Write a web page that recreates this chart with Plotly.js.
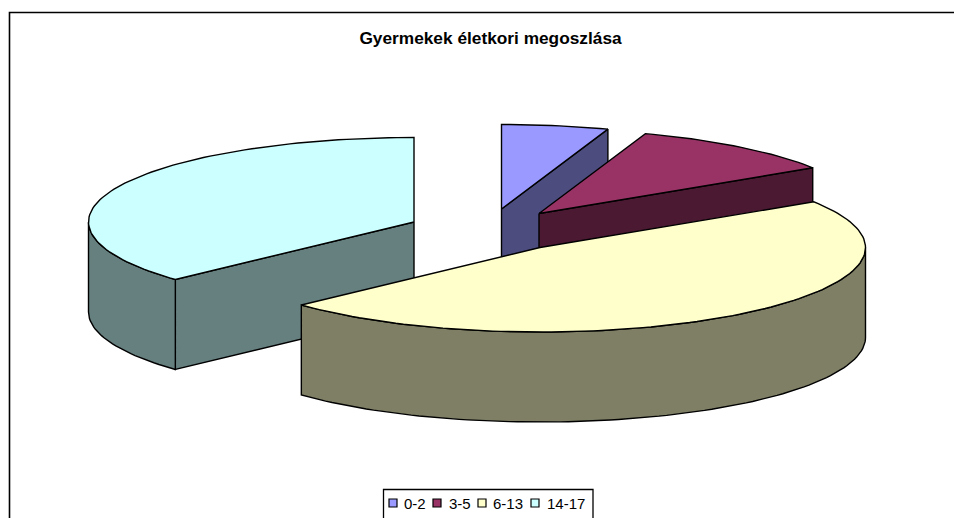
<!DOCTYPE html>
<html>
<head>
<meta charset="utf-8">
<script src="https://cdn.plot.ly/plotly-3.0.1.min.js"></script>
<style>html,body{margin:0;padding:0;background:#fff;overflow:hidden}#chart{width:954px;height:518px}</style>
</head>
<body>
<div id="chart"></div>
<script>
// Data
var categories = ["0-2", "3-5", "6-13", "14-17"];
var shares = [5.3, 10.6, 47.2, 36.9];
var topColors = ["#9999FF", "#993366", "#FFFFCC", "#CCFFFF"];
var wallColors = ["#4C4C7F", "#4C1933", "#7F7F66", "#667F7F"];
var chartTitle = "Gyermekek életkori megoszlása";

// Projection of the tilted, exploded pie (pixel-based axes)
var rx = 325.5, ry = 84.5, depth = 90;
var apexX = [501.5, 539, 540, 414];
var apexY = [209, 213.5, 247.5, 222];
var swatchX = [393, 437, 482, 535];
var swatchY = 503;
var labelX = [403, 447.5, 492, 546];

var total = shares.reduce(function (a, b) { return a + b; }, 0);
var cum = 0;
var slices = shares.map(function (s, i) {
  var a0 = cum / total * 360;
  cum += s;
  return { i: i, a0: a0, a1: cum / total * 360 };
});
function pt(i, deg, down) {
  var r = deg * Math.PI / 180;
  return [apexX[i] + rx * Math.sin(r), apexY[i] - ry * Math.cos(r) + (down || 0)];
}
function arc(i, a0, a1, down) {
  var n = Math.max(2, Math.ceil(Math.abs(a1 - a0) / 1.5)), out = [];
  for (var k = 0; k <= n; k++) out.push(pt(i, a0 + (a1 - a0) * k / n, down));
  return out;
}
function poly(points, fill) {
  var closed = points.concat([points[0]]);
  return {
    type: "scatter", mode: "lines", fill: "toself", fillcolor: fill,
    x: closed.map(function (p) { return p[0]; }),
    y: closed.map(function (p) { return p[1]; }),
    line: { color: "#000000", width: 1.4 },
    hoverinfo: "skip", showlegend: false
  };
}
var traces = [];
function drawSlice(s) {
  var i = s.i, apex = [apexX[i], apexY[i]], apexLow = [apexX[i], apexY[i] + depth];
  // radial wall on the trailing edge, when it faces the viewer
  if (s.a1 < 90 || (s.a0 > 180 && s.a0 < 270)) {
    var edge = s.a1 < 90 ? s.a1 : s.a0;
    traces.push(poly([apex, pt(i, edge), pt(i, edge, depth), apexLow], wallColors[i]));
  }
  // curved outer wall on the front half
  var w0 = Math.max(s.a0, 90), w1 = Math.min(s.a1, 270);
  if (w1 > w0) {
    traces.push(poly(arc(i, w0, w1, 0).concat(arc(i, w1, w0, depth)), wallColors[i]));
  }
  traces.push(poly([apex].concat(arc(i, s.a0, s.a1, 0)), topColors[i]));
}
[3, 0, 1, 2].forEach(function (k) { drawSlice(slices[k]); });

// Legend keys
categories.forEach(function (c, i) {
  traces.push({
    type: "scatter", mode: "markers", name: c,
    x: [swatchX[i]], y: [swatchY],
    marker: { symbol: "square", size: 8, color: topColors[i], line: { color: "#000000", width: 1.2 } },
    hoverinfo: "skip", showlegend: false
  });
});

var font = "Liberation Sans, Arial, sans-serif";
var annotations = categories.map(function (c, i) {
  return {
    x: labelX[i], y: swatchY + 0.5, xref: "x", yref: "y", text: c, showarrow: false,
    xanchor: "left", yanchor: "middle", xshift: -1, font: { family: font, size: 15, color: "#000" }
  };
});

var hidden = { range: [0, 954], visible: false, fixedrange: true };
var layout = {
  width: 954, height: 518, margin: { l: 0, r: 0, t: 0, b: 0 },
  paper_bgcolor: "#fff", plot_bgcolor: "#fff", showlegend: false,
  title: { text: "<b>" + chartTitle + "</b>", x: 490.5 / 954, xanchor: "center", y: 1 - 37.5 / 518, yanchor: "middle",
           font: { family: font, size: 17.3, color: "#000" } },
  xaxis: hidden,
  yaxis: { range: [518, 0], visible: false, fixedrange: true },
  annotations: annotations,
  shapes: [
    { type: "rect", xref: "x", yref: "y", x0: 9.5, y0: 12.5, x1: 970, y1: 540, line: { color: "#000", width: 1.6 }, layer: "below" },
    { type: "rect", xref: "x", yref: "y", x0: 383.5, y0: 489.5, x1: 593, y1: 540, line: { color: "#000", width: 1.3 }, layer: "below" }
  ]
};
Plotly.newPlot("chart", traces, layout, { displayModeBar: false, staticPlot: true });
</script>
</body>
</html>
